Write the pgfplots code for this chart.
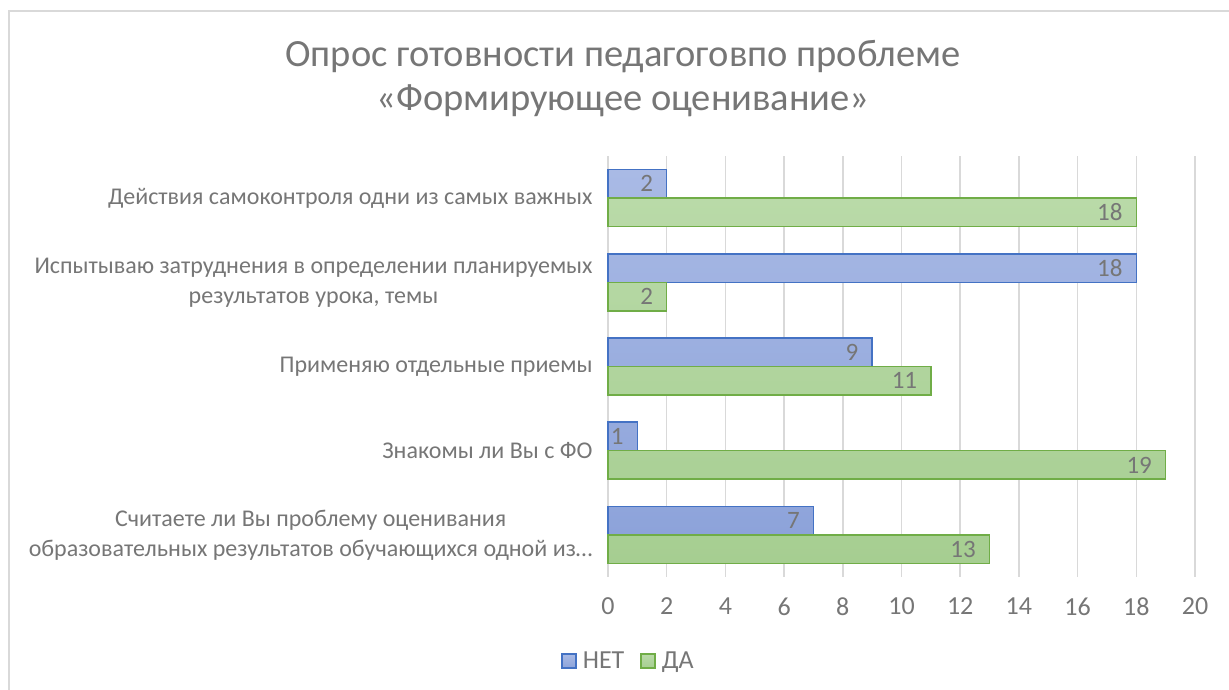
\documentclass[border=0pt]{standalone}
\usepackage{pgfplots}
\pgfplotsset{compat=1.18}
\usepackage{fontspec}
\setmainfont{Carlito}
\definecolor{txt}{HTML}{767676}
\definecolor{gridc}{HTML}{D9D9D9}
\definecolor{netB}{HTML}{4472C4}
\definecolor{netT}{HTML}{A9BAE5}
\definecolor{netD}{HTML}{8DA3DA}
\definecolor{daB}{HTML}{70AD47}
\definecolor{daT}{HTML}{B9DAA8}
\definecolor{daD}{HTML}{A6CE91}
\begin{document}
\begin{tikzpicture}[x=1pt,y=1pt]
\useasboundingbox (0,0) rectangle (1229,690);
\draw[gridc,line width=1.5pt] (9,0) -- (9,679) -- (1229,679);
\node[txt,font=\fontsize{38.5}{44}\selectfont,align=center] at (623,611) {Опрос готовности педагоговпо проблеме\\«Формирующее оценивание»};
\begin{axis}[
  at={(608pt,113pt)}, anchor=south west,
  scale only axis, width=587pt, height=421pt,
  xmin=0, xmax=20, ymin=-0.5, ymax=4.5,
  axis line style={draw=none},
  xtick={0,2,...,20},
  ytick={0,1,2,3,4},
  yticklabels={{Считаете ли Вы проблему оценивания\\образовательных результатов обучающихся одной из…},
               {Знакомы ли Вы с ФО},
               {Применяю отдельные приемы},
               {Испытываю затруднения в определении планируемых\\результатов урока, темы},
               {Действия самоконтроля одни из самых важных}},
  yticklabel style={align=center, font=\fontsize{24}{30}\selectfont, text=txt, xshift=-12pt},
  xticklabel style={font=\fontsize{26}{30}\selectfont, text=txt, yshift=-17pt},
  /pgf/number format/assume math mode=true,
  major tick length=0pt,
  xmajorgrids, major grid style={gridc, line width=1.5pt},
  xbar, bar width=28.5pt,
  nodes near coords,
  every node near coord/.append style={anchor=east, xshift=-13pt, inner sep=0pt, text=txt, font=\fontsize{25}{28}\selectfont},
  legend style={draw=none, fill=none, at={(0.035,-0.2)}, anchor=center, legend columns=2,
    font=\fontsize{26}{30}\selectfont, text=txt,
    /tikz/every odd column/.append style={column sep=4pt},
    /tikz/every even column/.append style={column sep=14pt}},
  legend image code/.code={\draw[#1] (0pt,-7pt) rectangle (14pt,7pt);},
  clip=false,
]
\addplot[bar shift=14.25pt, draw=netB, line width=1.5pt, top color=netT, bottom color=netD] coordinates {(7,0) (1,1) (9,2) (18,3) (2,4)};
\addplot[bar shift=-14.25pt, draw=daB, line width=1.5pt, top color=daT, bottom color=daD] coordinates {(13,0) (19,1) (11,2) (2,3) (18,4)};
\legend{НЕТ, ДА}
\end{axis}
\end{tikzpicture}
\end{document}
